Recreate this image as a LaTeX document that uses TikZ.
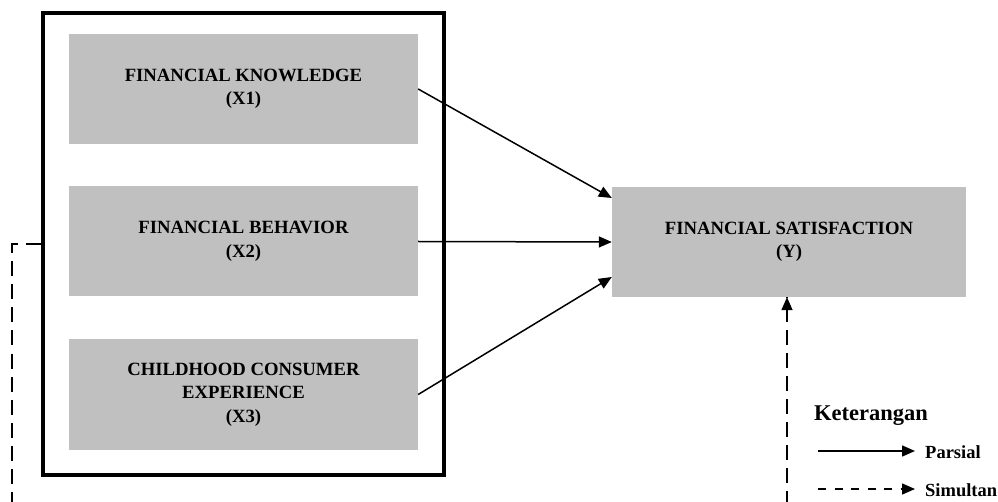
\documentclass[tikz,border=0pt]{standalone}
\usepackage{fontspec}
\setmainfont{Liberation Serif}
\usetikzlibrary{arrows.meta,calc}
\definecolor{boxgray}{RGB}{192,192,192}
\begin{document}
\begin{tikzpicture}[x=1pt,y=-1pt,
  varbox/.style={fill=boxgray,draw=none,minimum width=349pt,minimum height=110pt,inner sep=0pt,align=center,
    font=\fontsize{18.7}{23.5}\selectfont\bfseries},
  arr/.style={line width=1.5pt,-{Triangle[length=13pt,width=11pt]}},
  simdash/.style={line width=1.5pt,dash pattern=on 15pt off 8pt},
  legdash/.style={line width=1.5pt,dash pattern=on 8pt off 8.5pt,-{Triangle[length=13pt,width=11pt]}},
  legtext/.style={anchor=base west,inner sep=0pt,font=\fontsize{18.5}{22}\selectfont\bfseries}]
\clip (0,0) rectangle (998,502);
\fill[white] (0,0) rectangle (998,502);
% outer frame
\node[draw,line width=4pt,minimum width=401.5pt,minimum height=462pt,inner sep=0pt] (outer) at (243.25,244) {};
% variable boxes
\node[varbox] (x1) at (243.5,89) {FINANCIAL KNOWLEDGE\\(X1)};
\node[varbox] (x2) at (243.5,241.5) {FINANCIAL BEHAVIOR\\(X2)};
\node[varbox] (x3) at (243.5,394.5) {CHILDHOOD CONSUMER\\EXPERIENCE\\(X3)};
\node[varbox,minimum width=354pt] (y) at (789,242) {FINANCIAL SATISFACTION\\(Y)};
% partial arrows
\draw[arr] (x1.east) -- ($(y.west)+(0,-44)$);
\draw[arr] (x2.east) -- (y.west);
\draw[arr] (x3.east) -- ($(y.west)+(0,35)$);
% simultaneous connector
\coordinate (c1) at (12,244);
\coordinate (c2) at (12,525);
\coordinate (c3) at (787,525);
\draw[simdash] (outer.west |- c1) -- (c1) -- (c2) -- (c3) -- (c3 |- y.south);
\draw[line width=1.5pt,-{Triangle[length=13pt,width=11pt]}] ($(c3 |- y.south)+(0,14)$) -- (c3 |- y.south);
% legend
\node[anchor=base west,inner sep=0pt,font=\fontsize{22.5}{26}\selectfont\bfseries] (ket) at (814,420) {Keterangan};
\coordinate (pa) at (818,451);
\coordinate (pb) at (915,451);
\draw[arr] (pa) -- (pb);
\node[legtext] (parsial) at (925,458) {Parsial};
\coordinate (sa) at (818,489);
\coordinate (sb) at (915,489);
\draw[legdash] (sa) -- (sb);
\node[legtext] (simultan) at (925,496) {Simultan};
\end{tikzpicture}
\end{document}
